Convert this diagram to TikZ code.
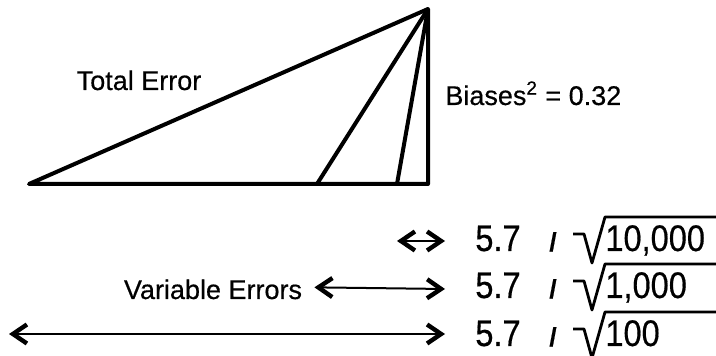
\documentclass[tikz,border=0pt]{standalone}
\usepackage{fontspec}
\setmainfont{Liberation Sans}[FakeBold=0.5]
\usetikzlibrary{calc}
\usetikzlibrary{arrows.meta}

\newcommand{\narrow}[1]{\scalebox{0.88}[1]{#1}}

\tikzset{
  side/.style={line width=2pt,line join=round},
  span/.style={line width=1pt,{Straight Barb[length=7pt,width=9.5pt,line width=0pt 2.2]}-{Straight Barb[length=7pt,width=9.5pt,line width=0pt 2.2]}},
  lbl/.style={font=\fontsize{13.5}{16}\selectfont},
  num/.style={font=\fontsize{18.5}{22}\selectfont},
  slash/.style={font=\fontsize{13}{15}\selectfont\bfseries},
  root/.style={line width=1.4pt,line join=round}
}

\begin{document}
\begin{tikzpicture}[x=0.5pt,y=-0.5pt,inner sep=0pt]
\useasboundingbox (0,0) rectangle (716,356);
% the triangle
\coordinate (apex) at (428,9);
\coordinate (bl) at (29,184);
\coordinate (br) at (428,184);
\coordinate (b1) at (317,184);
\coordinate (b2) at (397,184);
\draw[side] (bl) -- (apex) -- (br) -- cycle;
\draw[side] (b1) -- (apex);
\draw[side] (b2) -- (apex);
\node[lbl,anchor=base] (total) at (139,90) {Total Error};
\node[lbl,anchor=base west] (bias) at (445,105) {Biases\textsuperscript{2} = 0.32};

% the three rows
\node[num,anchor=base] (f1) at (498,251) {\narrow{5.7}};
\node[slash,anchor=base] (s1) at (553,251) {/};
\node[num,anchor=base west] (r1) at (605,251) {\narrow{10,000}};
\node[num,anchor=base] (f2) at (498,298) {\narrow{5.7}};
\node[slash,anchor=base] (s2) at (553,298) {/};
\node[num,anchor=base west] (r2) at (605,298) {\narrow{1,000}};
\node[num,anchor=base] (f3) at (498,346) {\narrow{5.7}};
\node[slash,anchor=base] (s3) at (553,346) {/};
\node[num,anchor=base west] (r3) at (605,346) {\narrow{100}};

\draw[root] ($(r1.base west)+(-32,-17)$) -- ++(11,0) -- ++(8,29) -- ++(13,-46) -- ++(111,0);
\draw[root] ($(r2.base west)+(-32,-17)$) -- ++(11,0) -- ++(8,29) -- ++(13,-46) -- ++(111,0);
\draw[root] ($(r3.base west)+(-32,-17)$) -- ++(11,0) -- ++(8,29) -- ++(13,-46) -- ++(111,0);

% the arrows
\coordinate (e1) at (445,241);
\coordinate (e2) at (445,289);
\coordinate (e3) at (445,334);
\coordinate (s1a) at (397,241);
\coordinate (s3a) at (9,334);
\node[lbl,anchor=base] (var) at (213,299) {Variable Errors};
\draw[span] ($(var.east)+(12,-2)$) -- (e2);
\draw[span] (s1a) -- (e1);
\draw[span] (s3a) -- (e3);
\end{tikzpicture}
\end{document}
